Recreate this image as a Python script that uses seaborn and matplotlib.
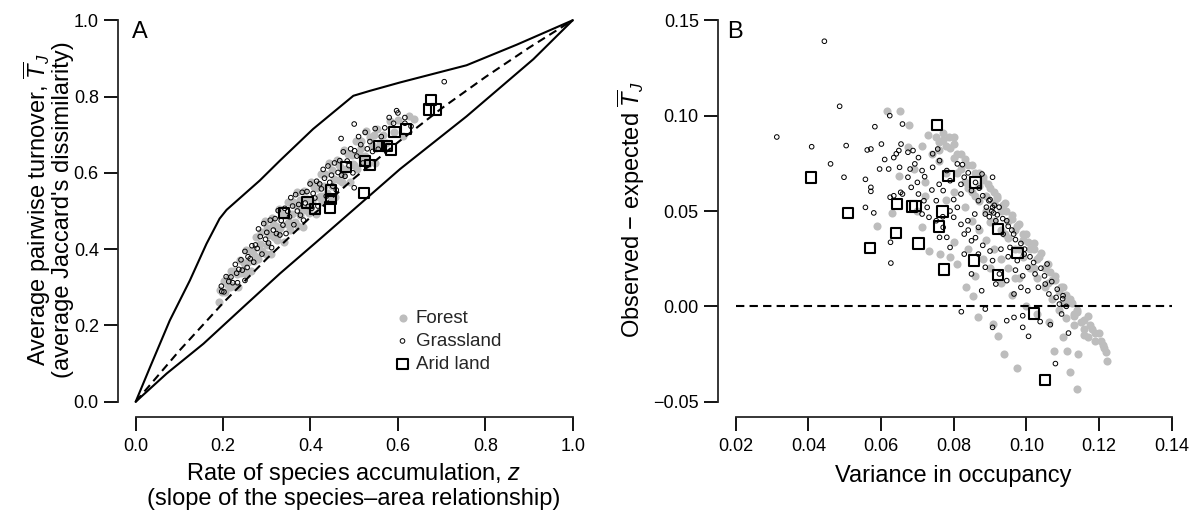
import numpy as np
import pandas as pd
import matplotlib
matplotlib.use("Agg")
import matplotlib.pyplot as plt
import seaborn as sns

# ------------------------------------------------------------
# Panel A: turnover vs rate of species accumulation (z, T_J)
# ------------------------------------------------------------
forest_a = [
    (0.190, 0.262), (0.193, 0.293), (0.198, 0.287), (0.201, 0.316), (0.205, 0.287),
    (0.209, 0.309), (0.211, 0.324), (0.216, 0.306), (0.219, 0.344), (0.224, 0.304),
    (0.226, 0.343), (0.231, 0.335), (0.235, 0.302), (0.238, 0.372), (0.242, 0.338),
    (0.247, 0.364), (0.249, 0.337), (0.253, 0.398), (0.258, 0.367), (0.261, 0.395),
    (0.264, 0.343), (0.269, 0.399), (0.272, 0.383), (0.276, 0.432), (0.279, 0.374),
    (0.284, 0.414), (0.287, 0.445), (0.290, 0.394), (0.295, 0.475), (0.298, 0.386),
    (0.301, 0.456), (0.306, 0.436), (0.309, 0.387), (0.312, 0.481), (0.317, 0.431),
    (0.320, 0.461), (0.323, 0.423), (0.328, 0.505), (0.331, 0.456), (0.334, 0.492),
    (0.339, 0.420), (0.342, 0.489), (0.346, 0.465), (0.349, 0.523), (0.353, 0.450),
    (0.357, 0.493), (0.360, 0.523), (0.364, 0.472), (0.368, 0.550), (0.371, 0.460),
    (0.375, 0.530), (0.379, 0.509), (0.382, 0.459), (0.386, 0.553), (0.390, 0.502),
    (0.393, 0.532), (0.397, 0.494), (0.401, 0.575), (0.404, 0.526), (0.408, 0.563),
    (0.412, 0.491), (0.415, 0.560), (0.419, 0.537), (0.423, 0.596), (0.427, 0.524),
    (0.430, 0.566), (0.434, 0.597), (0.438, 0.547), (0.442, 0.625), (0.446, 0.537),
    (0.450, 0.607), (0.453, 0.585), (0.457, 0.538), (0.461, 0.633), (0.465, 0.582),
    (0.469, 0.614), (0.473, 0.577), (0.477, 0.659), (0.481, 0.611), (0.486, 0.649),
    (0.490, 0.576), (0.494, 0.646), (0.498, 0.623), (0.503, 0.683), (0.507, 0.609),
    (0.512, 0.653), (0.516, 0.683), (0.521, 0.633), (0.526, 0.711), (0.531, 0.623),
    (0.536, 0.693), (0.541, 0.673), (0.547, 0.626), (0.553, 0.714), (0.559, 0.677),
    (0.566, 0.700), (0.573, 0.679), (0.581, 0.735), (0.590, 0.708), (0.600, 0.738),
    (0.612, 0.697), (0.625, 0.749), (0.637, 0.741),
    (0.215, 0.300), (0.245, 0.345), (0.270, 0.370), (0.300, 0.410), (0.325, 0.440),
    (0.350, 0.470), (0.375, 0.490), (0.400, 0.510), (0.425, 0.540), (0.450, 0.565),
    (0.475, 0.595), (0.500, 0.620), (0.525, 0.645), (0.550, 0.665), (0.315, 0.465),
    (0.365, 0.515), (0.415, 0.570), (0.465, 0.620), (0.515, 0.665), (0.545, 0.700),
]

grass_a = [
    (0.196, 0.303), (0.202, 0.288), (0.207, 0.328), (0.213, 0.315), (0.218, 0.327),
    (0.222, 0.312), (0.228, 0.360), (0.233, 0.312), (0.236, 0.347), (0.241, 0.372),
    (0.244, 0.345), (0.250, 0.394), (0.255, 0.352), (0.257, 0.380), (0.262, 0.375),
    (0.266, 0.409), (0.270, 0.366), (0.274, 0.411), (0.278, 0.402), (0.281, 0.453),
    (0.285, 0.433), (0.289, 0.387), (0.293, 0.467), (0.297, 0.426), (0.300, 0.444),
    (0.304, 0.416), (0.308, 0.476), (0.311, 0.404), (0.315, 0.450), (0.319, 0.480),
    (0.322, 0.441), (0.326, 0.501), (0.330, 0.437), (0.333, 0.475), (0.337, 0.463),
    (0.341, 0.507), (0.344, 0.441), (0.348, 0.499), (0.352, 0.485), (0.355, 0.535),
    (0.359, 0.513), (0.362, 0.464), (0.366, 0.543), (0.370, 0.500), (0.373, 0.517),
    (0.377, 0.489), (0.381, 0.549), (0.384, 0.476), (0.388, 0.521), (0.392, 0.551),
    (0.395, 0.512), (0.399, 0.571), (0.403, 0.507), (0.406, 0.546), (0.410, 0.534),
    (0.414, 0.578), (0.417, 0.513), (0.421, 0.571), (0.425, 0.558), (0.429, 0.609),
    (0.432, 0.586), (0.436, 0.539), (0.440, 0.618), (0.444, 0.575), (0.448, 0.594),
    (0.451, 0.565), (0.455, 0.626), (0.459, 0.555), (0.463, 0.601), (0.467, 0.632),
    (0.471, 0.594), (0.475, 0.655), (0.479, 0.591), (0.484, 0.631), (0.488, 0.619),
    (0.492, 0.663), (0.497, 0.600), (0.501, 0.658), (0.506, 0.644), (0.510, 0.695),
    (0.515, 0.674), (0.520, 0.626), (0.525, 0.706), (0.530, 0.663), (0.536, 0.682),
    (0.542, 0.656), (0.548, 0.716), (0.555, 0.662), (0.562, 0.695), (0.570, 0.718),
    (0.597, 0.763), (0.600, 0.757), (0.616, 0.745), (0.616, 0.730), (0.630, 0.722),
    (0.706, 0.839), (0.500, 0.728), (0.500, 0.561), (0.197, 0.289), (0.250, 0.318),
    (0.231, 0.337), (0.590, 0.730), (0.580, 0.745), (0.470, 0.690),
]

arid_a = [
    (0.340, 0.495), (0.393, 0.522), (0.411, 0.505), (0.447, 0.554), (0.447, 0.531),
    (0.445, 0.509), (0.482, 0.615), (0.523, 0.548), (0.524, 0.631), (0.536, 0.620),
    (0.556, 0.670), (0.575, 0.671), (0.585, 0.661), (0.592, 0.707), (0.618, 0.715),
    (0.675, 0.791), (0.671, 0.766), (0.687, 0.766),
]

# envelope lines (maximum / minimum turnover) and the expected curve
upper_z = [0.0, 0.033, 0.078, 0.124, 0.162, 0.192, 0.208, 0.284, 0.330, 0.406,
           0.498, 0.536, 0.605, 0.757, 0.872, 1.0]
upper_t = [0.0, 0.091, 0.213, 0.318, 0.414, 0.480, 0.503, 0.580, 0.632, 0.715,
           0.802, 0.815, 0.837, 0.882, 0.936, 1.0]
lower_z = [0.0, 0.071, 0.155, 0.246, 0.330, 0.422, 0.605, 0.757, 0.910, 1.0]
lower_t = [0.0, 0.074, 0.152, 0.248, 0.336, 0.427, 0.610, 0.748, 0.898, 1.0]
expected_z = [0.0, 0.1, 0.2, 0.3, 0.4, 0.5, 0.6, 0.7, 0.8, 0.9, 1.0]
expected_t = [0.0, 0.134, 0.259, 0.375, 0.484, 0.586, 0.680, 0.769, 0.851, 0.928, 1.0]

a_ticks = [0.0, 0.2, 0.4, 0.6, 0.8, 1.0]
a_tick_labels = ["0.0", "0.2", "0.4", "0.6", "0.8", "1.0"]

# ------------------------------------------------------------
# Panel B: observed - expected T_J vs variance in occupancy
# ------------------------------------------------------------
forest_b = [
    (0.0616, 0.1026), (0.0651, 0.1023), (0.0677, 0.0951), (0.0674, 0.0834), (0.0713, 0.0843),
    (0.0751, 0.0886), (0.0788, 0.0886), (0.0770, 0.0870), (0.0800, 0.0850), (0.0760, 0.0820),
    (0.078, 0.084), (0.080, 0.078), (0.081, 0.070), (0.082, 0.080), (0.083, 0.065),
    (0.084, 0.074), (0.085, 0.060), (0.086, 0.070), (0.087, 0.063), (0.087, 0.055),
    (0.088, 0.068), (0.089, 0.058), (0.089, 0.050), (0.090, 0.062), (0.091, 0.054),
    (0.091, 0.045), (0.092, 0.058), (0.093, 0.050), (0.093, 0.040), (0.094, 0.054),
    (0.095, 0.045), (0.095, 0.036), (0.096, 0.048), (0.097, 0.040), (0.097, 0.030),
    (0.098, 0.043), (0.099, 0.035), (0.099, 0.026), (0.100, 0.038), (0.101, 0.030),
    (0.101, 0.020), (0.102, 0.033), (0.103, 0.025), (0.103, 0.015), (0.104, 0.028),
    (0.105, 0.020), (0.105, 0.010), (0.106, 0.022), (0.107, 0.014), (0.107, 0.004),
    (0.108, 0.016), (0.109, 0.008), (0.109, -0.002), (0.110, 0.010), (0.111, 0.002),
    (0.111, -0.006), (0.112, 0.004), (0.113, -0.004), (0.113, -0.010), (0.114, -0.002),
    (0.115, -0.008), (0.116, -0.012), (0.117, -0.005), (0.117, -0.016), (0.118, -0.012),
    (0.119, -0.018), (0.120, -0.014), (0.121, -0.020), (0.122, -0.024), (0.1222, -0.0285),
    (0.0834, 0.010), (0.0854, 0.0056), (0.0868, -0.0058), (0.0907, -0.0093), (0.0923, -0.0154),
    (0.0938, -0.025), (0.0973, -0.0323), (0.1077, -0.0233), (0.1111, -0.0233), (0.1119, -0.0343),
    (0.1140, -0.0434), (0.1142, -0.025), (0.1101, -0.0163), (0.1062, -0.0084), (0.1000, 0.000),
    (0.0960, 0.006), (0.0930, 0.012), (0.0900, 0.020), (0.1030, -0.004), (0.0980, 0.015),
    (0.0588, 0.042), (0.0630, 0.049), (0.0650, 0.0685), (0.0713, 0.0418), (0.0732, 0.0292),
    (0.0761, 0.0274), (0.0790, 0.026), (0.0810, 0.0222), (0.0690, 0.0720), (0.0720, 0.0650),
    (0.0800, 0.0600), (0.0830, 0.0520), (0.0850, 0.0450), (0.0870, 0.0400), (0.0890, 0.0350),
    (0.0910, 0.0300), (0.0930, 0.0250), (0.0950, 0.0200), (0.0970, 0.0150), (0.0780, 0.0700),
    (0.0820, 0.0720), (0.0760, 0.0760), (0.0740, 0.0800), (0.0800, 0.0340), (0.0840, 0.0300),
    (0.0880, 0.0250), (0.0860, 0.0160), (0.0780, 0.0560), (0.0720, 0.0580), (0.0700, 0.0500),
    (0.0760, 0.0860), (0.0790, 0.0830), (0.0810, 0.0800), (0.0830, 0.0770), (0.0850, 0.0740),
    (0.0870, 0.0700), (0.0880, 0.0660), (0.0895, 0.0640), (0.0910, 0.0600), (0.0920, 0.0570),
    (0.0935, 0.0530), (0.0945, 0.0500), (0.0960, 0.0460), (0.0975, 0.0420), (0.0990, 0.0380),
    (0.1005, 0.0340), (0.1020, 0.0300), (0.1035, 0.0260), (0.1050, 0.0200), (0.1065, 0.0180),
    (0.1080, 0.0140), (0.1095, 0.0100), (0.1110, 0.0060), (0.1125, 0.0020), (0.1140, -0.0030),
    (0.1160, -0.0070), (0.1175, -0.0100), (0.1190, -0.0140), (0.1205, -0.0180), (0.1215, -0.0220),
    (0.0840, 0.0620), (0.0860, 0.0580), (0.0900, 0.0440), (0.0940, 0.0380), (0.0980, 0.0300),
    (0.1020, 0.0200), (0.1060, 0.0120), (0.1100, 0.0020), (0.1130, -0.0050), (0.1160, -0.0150),
    (0.0730, 0.0900), (0.0770, 0.0910), (0.0800, 0.0890),
]

grass_b = [
    (0.0313, 0.0888), (0.0409, 0.0837), (0.0444, 0.1390), (0.0461, 0.0747), (0.0486, 0.1049),
    (0.0498, 0.0677), (0.0504, 0.0843), (0.0557, 0.0666), (0.0557, 0.0519), (0.0562, 0.0820),
    (0.0572, 0.0825), (0.0572, 0.0624), (0.0572, 0.0603), (0.0580, 0.0490), (0.0583, 0.0942),
    (0.0601, 0.0851), (0.0624, 0.1000), (0.0626, 0.0336), (0.0627, 0.0227), (0.0659, 0.0956),
    (0.0655, 0.0851), (0.0651, 0.0729), (0.0621, 0.0720), (0.0596, 0.0720), (0.0610, 0.0770),
    (0.0635, 0.0780), (0.0642, 0.0800), (0.0649, 0.0817), (0.0674, 0.0808), (0.0688, 0.0817),
    (0.0703, 0.0780), (0.0693, 0.0747), (0.0713, 0.0712), (0.0742, 0.0729), (0.0742, 0.0800),
    (0.0756, 0.0825), (0.0761, 0.0764), (0.0781, 0.0712), (0.0790, 0.0659), (0.0771, 0.0607),
    (0.0752, 0.0554), (0.0727, 0.0519), (0.0718, 0.0554), (0.0703, 0.0589), (0.0683, 0.0624),
    (0.0659, 0.0589), (0.0635, 0.0580), (0.0625, 0.0572), (0.0654, 0.0598), (0.0674, 0.0677),
    (0.0713, 0.0484), (0.0732, 0.0467), (0.0752, 0.0449), (0.0771, 0.0414), (0.0781, 0.0362),
    (0.0761, 0.0362), (0.0790, 0.0309), (0.0800, 0.0467), (0.0810, 0.0519), (0.0820, 0.0589),
    (0.0829, 0.0677), (0.0810, 0.0747), (0.0824, 0.0743), (0.0849, 0.0607), (0.0868, 0.0554),
    (0.0858, 0.0484), (0.0839, 0.0449), (0.0829, 0.0379), (0.0849, 0.0344), (0.0868, 0.0414),
    (0.0887, 0.0484), (0.0897, 0.0554), (0.0907, 0.0519), (0.0916, 0.0449), (0.0936, 0.0379),
    (0.0946, 0.0449), (0.0965, 0.0379), (0.0955, 0.0309), (0.0975, 0.0240), (0.0994, 0.0274),
    (0.1004, 0.0205), (0.1024, 0.0170), (0.1033, 0.0100), (0.1052, 0.0117), (0.1062, 0.0065),
    (0.1082, 0.0047), (0.1091, 0.0012), (0.1057, 0.0222), (0.1101, 0.0056), (0.0907, 0.0240),
    (0.0887, 0.0205), (0.0868, 0.0274), (0.0926, 0.0170), (0.0946, 0.0135), (0.0916, 0.0117),
    (0.0877, 0.0082), (0.0849, 0.0170), (0.0829, 0.0274), (0.0966, 0.0065), (0.1004, 0.0082),
    (0.0985, 0.0100), (0.0907, 0.0677), (0.0878, 0.0694), (0.0905, 0.0500), (0.0912, 0.0530),
    (0.0898, 0.0470), (0.0920, 0.0480), (0.0821, -0.0028), (0.0887, -0.0014), (0.0907, -0.0110),
    (0.0946, -0.0075), (0.0966, -0.0058), (0.0990, -0.0049), (0.0990, -0.0110), (0.1006, -0.0157),
    (0.1038, -0.0080), (0.1066, -0.0096), (0.1080, -0.0300), (0.1116, -0.0140), (0.1097, -0.0040),
    (0.0880, 0.0580), (0.0890, 0.0520), (0.0900, 0.0560), (0.0910, 0.0490), (0.0925, 0.0520),
    (0.0935, 0.0460), (0.0950, 0.0420), (0.0960, 0.0400), (0.0970, 0.0350), (0.0985, 0.0330),
    (0.0995, 0.0300), (0.1010, 0.0260), (0.1020, 0.0230), (0.1040, 0.0200), (0.1050, 0.0160),
    (0.1070, 0.0130), (0.1085, 0.0090), (0.1100, 0.0040), (0.1110, 0.0000), (0.0870, 0.0620),
    (0.0860, 0.0650), (0.0840, 0.0700), (0.0820, 0.0640), (0.0800, 0.0560), (0.0790, 0.0500),
    (0.0770, 0.0470), (0.0820, 0.0430), (0.0840, 0.0400), (0.0860, 0.0360), (0.0880, 0.0320),
    (0.0900, 0.0290), (0.0930, 0.0300), (0.0950, 0.0260), (0.0970, 0.0190), (0.0990, 0.0160),
    (0.0760, 0.0640), (0.0740, 0.0610), (0.0720, 0.0680), (0.0700, 0.0650), (0.0680, 0.0720),
]

arid_b = [
    (0.0754, 0.0951), (0.0408, 0.0675), (0.0509, 0.0490), (0.0570, 0.0306), (0.0644, 0.0537),
    (0.0641, 0.0383), (0.0686, 0.0524), (0.0695, 0.0526), (0.0703, 0.0330), (0.0769, 0.0498),
    (0.0759, 0.0418), (0.0773, 0.0194), (0.0786, 0.0684), (0.0860, 0.0650), (0.0856, 0.0240),
    (0.0921, 0.0406), (0.0921, 0.0166), (0.0976, 0.0280), (0.1021, -0.0037), (0.1052, -0.0385),
]

zero_v = [0.02, 0.14]
zero_d = [0.0, 0.0]

b_xticks = [0.02, 0.04, 0.06, 0.08, 0.10, 0.12, 0.14]
b_xtick_labels = ["0.02", "0.04", "0.06", "0.08", "0.10", "0.12", "0.14"]
b_yticks = [-0.05, 0.0, 0.05, 0.10, 0.15]
b_ytick_labels = ["\u22120.05", "0.00", "0.05", "0.10", "0.15"]

# ------------------------------------------------------------
# Style
# ------------------------------------------------------------
sns.set_style("ticks")
plt.rcParams["font.family"] = ["Liberation Sans", "DejaVu Sans"]
plt.rcParams["mathtext.fontset"] = "custom"
plt.rcParams["mathtext.rm"] = "Liberation Sans"
plt.rcParams["mathtext.it"] = "Liberation Sans:italic"
plt.rcParams["mathtext.bf"] = "Liberation Sans:bold"

GRAY = "#bdbdbd"
W, H = 1193, 514


def px_box(left, top, right, bottom):
    # axes rectangle given in pixel coordinates of the output image
    return [left / W, 1 - bottom / H, (right - left) / W, (bottom - top) / H]


def draw_groups(ax, forest, grass, arid, cols):
    handles = []
    for rows, kws in [
        (forest, dict(color=GRAY, s=34, linewidth=0, zorder=2)),
        (grass, dict(marker="o", facecolors="none", edgecolor="black",
                     s=11, linewidth=0.7, zorder=3)),
        (arid, dict(marker="s", facecolors="none", edgecolor="black",
                    s=55, linewidth=1.5, zorder=4)),
    ]:
        df = pd.DataFrame(rows, columns=cols)
        n_before = len(ax.collections)
        sns.scatterplot(data=df, x=cols[0], y=cols[1], ax=ax, legend=False, **kws)
        handles.append(ax.collections[n_before])
    return handles


def style_axis(ax, xticks, xlabels, yticks, ylabels):
    ax.spines[["top", "right"]].set_visible(False)
    for side in ["left", "bottom"]:
        ax.spines[side].set_linewidth(1.3)
    ax.spines["bottom"].set_bounds(xticks[0], xticks[-1])
    ax.spines["left"].set_bounds(yticks[0], yticks[-1])
    ax.set_xticks(xticks)
    ax.set_xticklabels(xlabels)
    ax.set_yticks(yticks)
    ax.set_yticklabels(ylabels)
    ax.tick_params(direction="out", length=10, width=1.3, labelsize=13, colors="black")
    ax.tick_params(axis="x", pad=5)
    ax.tick_params(axis="y", pad=4)
    ax.set_xlabel("")
    ax.set_ylabel("")


fig = plt.figure(figsize=(W / 100, H / 100), dpi=100)
ax_a = fig.add_axes(px_box(118.2, 5, 590.2, 417))
ax_b = fig.add_axes(px_box(718.3, 5, 1189.1, 417))

# ---- panel A ----
handles = draw_groups(ax_a, forest_a, grass_a, arid_a, ["z", "T"])
ax_a.plot(upper_z, upper_t, color="black", lw=1.5, zorder=2.5)
ax_a.plot(lower_z, lower_t, color="black", lw=1.5, zorder=2.5)
ax_a.plot(expected_z, expected_t, color="black", lw=1.5, dashes=(4, 2.5), zorder=2.5)
ax_a.set_xlim(-0.04, 1.04)
ax_a.set_ylim(-0.04, 1.04)
style_axis(ax_a, a_ticks, a_tick_labels, a_ticks, a_tick_labels)

ax_a.legend(handles, ["Forest", "Grassland", "Arid land"],
            loc="upper left", bbox_to_anchor=(395 / W, 1 - 310 / H),
            bbox_transform=fig.transFigure, frameon=False, fontsize=13.5,
            handlelength=0.8, handletextpad=0.3, labelspacing=0.3,
            borderpad=0, borderaxespad=0, scatterpoints=1)

# ---- panel B ----
draw_groups(ax_b, forest_b, grass_b, arid_b, ["v", "d"])
ax_b.plot(zero_v, zero_d, color="black", lw=1.5, dashes=(4, 2.5), zorder=2.5)
ax_b.set_xlim(0.0152, 0.1448)
ax_b.set_ylim(-0.058, 0.158)
style_axis(ax_b, b_xticks, b_xtick_labels, b_yticks, b_ytick_labels)

# ---- labels (placed like R's mtext lines) ----
lab = dict(fontsize=17, color="black")
fig.text(37 / W, 1 - 210 / H, r"Average pairwise turnover, $\overline{T}_{J}$",
         rotation=90, ha="center", va="center", **lab)
fig.text(63 / W, 1 - 210 / H, "(average Jaccard's dissimilarity)",
         rotation=90, ha="center", va="center", **lab)
fig.text(631 / W, 1 - 210 / H, "Observed \u2212 expected $\\overline{T}_{J}$",
         rotation=90, ha="center", va="center", **lab)
fig.text(354 / W, 1 - 480 / H, "Rate of species accumulation, $z$",
         ha="center", va="baseline", **lab)
fig.text(354 / W, 1 - 505 / H, "(slope of the species\u2013area relationship)",
         ha="center", va="baseline", **lab)
fig.text(953.7 / W, 1 - 481.7 / H, "Variance in occupancy",
         ha="center", va="baseline", **lab)
fig.text(132 / W, 1 - 38 / H, "A", ha="left", va="baseline", **lab)
fig.text(727 / W, 1 - 38 / H, "B", ha="left", va="baseline", **lab)

fig.savefig("out.png", dpi=100)
